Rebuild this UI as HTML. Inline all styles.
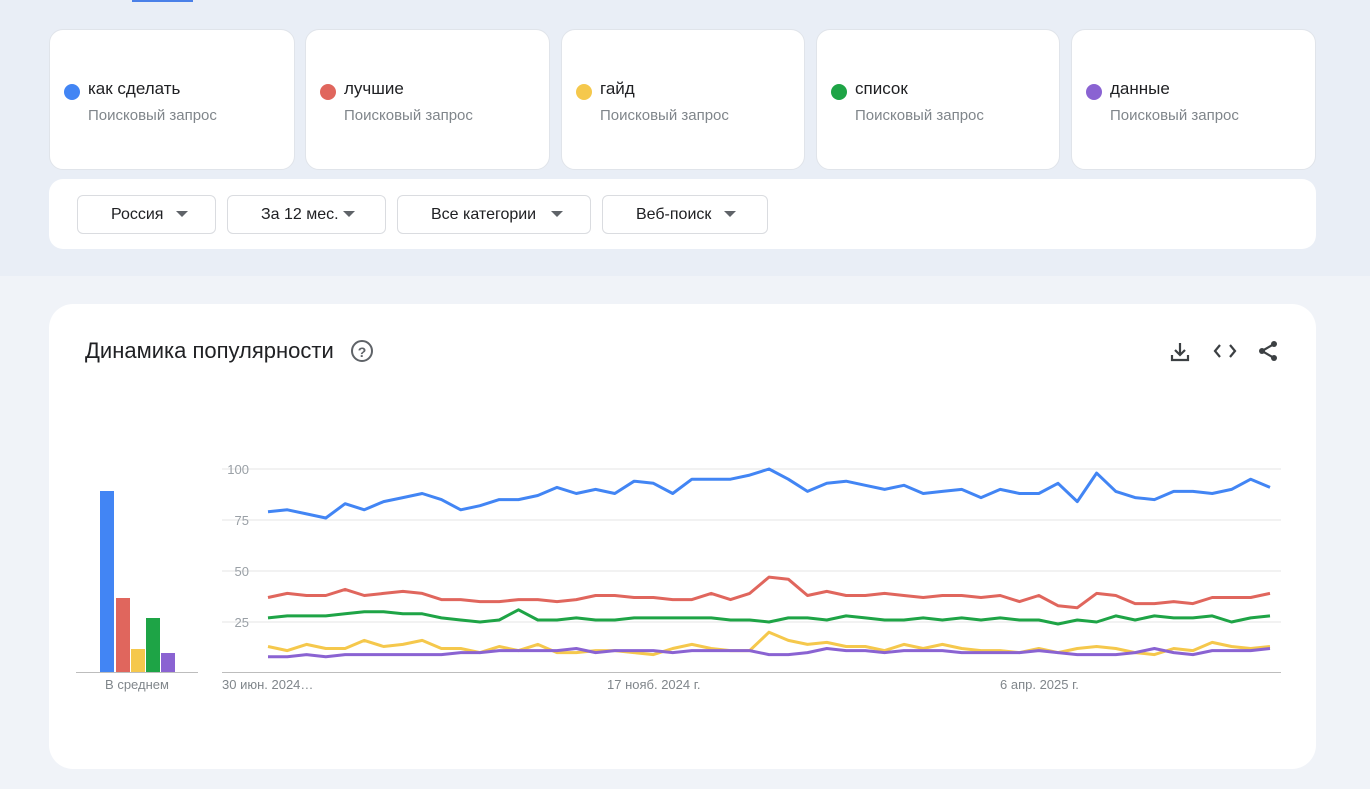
<!DOCTYPE html>
<html><head><meta charset="utf-8">
<style>
*{margin:0;padding:0;box-sizing:border-box}
body{width:1370px;height:789px;background:#f0f3f8;font-family:"Liberation Sans",sans-serif;position:relative;overflow:hidden}
.top{position:absolute;left:0;top:0;width:1370px;height:276px;background:#e9eef6}
.tab{position:absolute;left:132px;top:0;width:61px;height:2px;background:#4a80e8}
.card{position:absolute;top:29px;height:141px;background:#fff;border-radius:14px;border:1px solid #e0e4ea}
.dot{position:absolute;left:14px;top:54px;width:16px;height:16px;border-radius:50%}
.t{position:absolute;left:38px;top:49px;font-size:17px;color:#202124}
.s{position:absolute;left:38px;top:77px;font-size:15px;color:#80868b}
.panel{position:absolute;left:49px;top:179px;width:1267px;height:70px;background:#fff;border-radius:14px}
.btn{position:absolute;top:195px;height:39px;border:1px solid #dadce0;border-radius:6px;background:#fff;font-size:16px;color:#202124;line-height:37px}
.btn span{position:absolute;top:0}
.btn i{position:absolute;top:15px;width:0;height:0;border-left:6px solid transparent;border-right:6px solid transparent;border-top:6px solid #5f6368}
.chart{position:absolute;left:49px;top:304px;width:1267px;height:465px;background:#fff;border-radius:24px}
</style></head><body>
<div class="top"></div><div class="tab"></div>
<div class="card" style="left:49px;width:246px"><div class="dot" style="background:#4285f4"></div><div class="t">как сделать</div><div class="s">Поисковый запрос</div></div>
<div class="card" style="left:305px;width:245px"><div class="dot" style="background:#e0665d"></div><div class="t">лучшие</div><div class="s">Поисковый запрос</div></div>
<div class="card" style="left:561px;width:244px"><div class="dot" style="background:#f5c84c"></div><div class="t">гайд</div><div class="s">Поисковый запрос</div></div>
<div class="card" style="left:816px;width:244px"><div class="dot" style="background:#1ea446"></div><div class="t">список</div><div class="s">Поисковый запрос</div></div>
<div class="card" style="left:1071px;width:245px"><div class="dot" style="background:#8a63d2"></div><div class="t">данные</div><div class="s">Поисковый запрос</div></div>
<div class="panel"></div>
<div class="btn" style="left:77px;width:139px"><span style="left:33px">Россия</span><i style="left:98px"></i></div>
<div class="btn" style="left:227px;width:159px"><span style="left:33px">За 12 мес.</span><i style="left:115px"></i></div>
<div class="btn" style="left:397px;width:194px"><span style="left:33px">Все категории</span><i style="left:153px"></i></div>
<div class="btn" style="left:602px;width:166px"><span style="left:33px">Веб-поиск</span><i style="left:121px"></i></div>
<div class="chart"></div>
<svg width="1370" height="789" style="position:absolute;left:0;top:0" id="sv" font-family="Liberation Sans, sans-serif">
<text x="85" y="358" font-size="22" fill="#202124">Динамика популярности</text>
<circle cx="362" cy="351" r="10" fill="none" stroke="#5f6368" stroke-width="2"/>
<text x="362" y="357" font-size="14" font-weight="bold" text-anchor="middle" fill="#5f6368">?</text>
<g stroke="#3c4043" stroke-width="2.2" fill="none">
<path d="M1180 343v12M1175 350l5 5 5-5M1172 355v5h16v-5"/>
<path d="M1220 345l-5 6 5 6M1230 345l5 6-5 6"/>
<path d="M1274 344l-12 7 12 7"/>
</g>
<g fill="#3c4043"><circle cx="1274" cy="344" r="3"/><circle cx="1262" cy="351" r="3"/><circle cx="1274" cy="358" r="3"/></g>
<g stroke="#e6e6e6" stroke-width="1">
<line x1="222" y1="469" x2="1281" y2="469"/><line x1="222" y1="520" x2="1281" y2="520"/><line x1="222" y1="571" x2="1281" y2="571"/><line x1="222" y1="622" x2="1281" y2="622"/>
</g>
<line x1="222" y1="672.5" x2="1281" y2="672.5" stroke="#bdbdbd"/>
<line x1="76" y1="672.5" x2="198" y2="672.5" stroke="#bdbdbd"/>
<g font-size="13" fill="#9aa0a6" text-anchor="end">
<text x="249" y="474">100</text><text x="249" y="525">75</text><text x="249" y="576">50</text><text x="249" y="627">25</text></g>
<g font-size="13" fill="#80868b">
<text x="222" y="689">30 июн. 2024…</text><text x="607" y="689">17 нояб. 2024 г.</text><text x="1000" y="689">6 апр. 2025 г.</text>
<text x="137" y="689" text-anchor="middle">В среднем</text></g>
<rect x="100" y="491" width="14" height="181" fill="#4285f4"/>
<rect x="116" y="598" width="14" height="74" fill="#e0665d"/>
<rect x="131" y="649" width="14" height="23" fill="#f5c84c"/>
<rect x="146" y="618" width="14" height="54" fill="#1ea446"/>
<rect x="161" y="653" width="14" height="19" fill="#8a63d2"/>
<g id="lines" fill="none" stroke-width="3" stroke-linejoin="round"></g>
</svg>
<script>
var D=[
["#f5c84c",[13,11,14,12,12,16,13,14,16,12,12,10,13,11,14,10,10,11,11,10,9,12,14,12,11,11,20,16,14,15,13,13,11,14,12,14,12,11,11,10,12,10,12,13,12,10,9,12,11,15,13,12,13]],
["#8a63d2",[8,8,9,8,9,9,9,9,9,9,10,10,11,11,11,11,12,10,11,11,11,10,11,11,11,11,9,9,10,12,11,11,10,11,11,11,10,10,10,10,11,10,9,9,9,10,12,10,9,11,11,11,12]],
["#1ea446",[27,28,28,28,29,30,30,29,29,27,26,25,26,31,26,26,27,26,26,27,27,27,27,27,26,26,25,27,27,26,28,27,26,26,27,26,27,26,27,26,26,24,26,25,28,26,28,27,27,28,25,27,28]],
["#e0665d",[37,39,38,38,41,38,39,40,39,36,36,35,35,36,36,35,36,38,38,37,37,36,36,39,36,39,47,46,38,40,38,38,39,38,37,38,38,37,38,35,38,33,32,39,38,34,34,35,34,37,37,37,39]],
["#4285f4",[79,80,78,76,83,80,84,86,88,85,80,82,85,85,87,91,88,90,88,94,93,88,95,95,95,97,100,95,89,93,94,92,90,92,88,89,90,86,90,88,88,93,84,98,89,86,85,89,89,88,90,95,91]]];
var g=document.getElementById('lines'),h='';
D.forEach(function(s){var p=s[1].map(function(v,i){return (268+i*(1270-268)/52).toFixed(1)+','+(673-v*2.04).toFixed(1)}).join(' ');
h+='<polyline stroke="'+s[0]+'" points="'+p+'"/>';});
g.innerHTML=h;
</script>
</body></html>
